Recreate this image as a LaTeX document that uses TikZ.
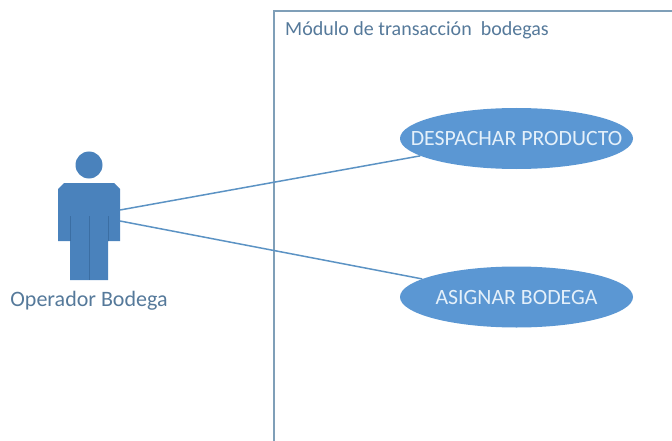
\documentclass[tikz,border=0pt]{standalone}
\usepackage{fontspec}
\setmainfont{Carlito}
\usetikzlibrary{shapes.geometric}
\definecolor{usefill}{HTML}{5B97D3}
\definecolor{actorfill}{HTML}{4A82BC}
\definecolor{actorline}{HTML}{3B6EA3}
\definecolor{linkcol}{HTML}{5C93C4}
\definecolor{boxcol}{HTML}{7F9FB8}
\definecolor{labelcol}{HTML}{55799A}
\definecolor{usetext}{HTML}{E4F0FA}
\newcommand{\usetxt}[1]{\makebox[0pt][c]{#1}}
\tikzset{
  usecase/.style={ellipse,fill=usefill,draw=none,minimum width=233pt,minimum height=61pt,inner sep=0pt,text=usetext,font=\fontsize{21.8}{24}\selectfont},
  caption/.style={inner sep=0pt,text=labelcol,font=\fontsize{20}{24}\selectfont},
  actorcaption/.style={inner sep=0pt,text=labelcol,font=\fontsize{22}{24}\selectfont},
  link/.style={draw=linkcol,line width=1.5pt},
  boundary/.style={draw=boxcol,line width=1.2pt},
  actorshape/.style={fill=actorfill,draw=none},
  actorseam/.style={draw=actorline,line width=0.6pt}
}
\begin{document}
\begin{tikzpicture}[x=1pt,y=-1pt]
\useasboundingbox (0,0) rectangle (672,441);
% system boundary
\draw[boundary] (274,441) -- (274,11) -- (672,11);
\node[caption,anchor=west] (title) at (285,30.5) {Módulo de transacción\ \ bodegas};
% actor
\fill[actorshape] (89,165) circle (13.5);
\fill[actorshape] (64,183) -- (114,183) -- (120,189) -- (120,241) -- (108,241) -- (108,280) -- (70,280) -- (70,241) -- (58,241) -- (58,189) -- cycle;
\draw[actorseam] (70,216) -- (70,241);
\draw[actorseam] (108,216) -- (108,241);
\draw[actorseam] (89,216) -- (89,280);
\node[actorcaption] (actorname) at (89,300.5) {Operador Bodega};
\coordinate (actorA) at (120,210);
\coordinate (actorB) at (120,221);
% use cases
\node[usecase] (despachar) at (516.5,138.5) {\usetxt{DESPACHAR PRODUCTO}};
\node[usecase] (asignar) at (516.5,297) {\usetxt{ASIGNAR BODEGA}};
% connectors
\draw[link] (actorA) -- (despachar);
\draw[link] (actorB) -- (asignar);
\end{tikzpicture}
\end{document}
